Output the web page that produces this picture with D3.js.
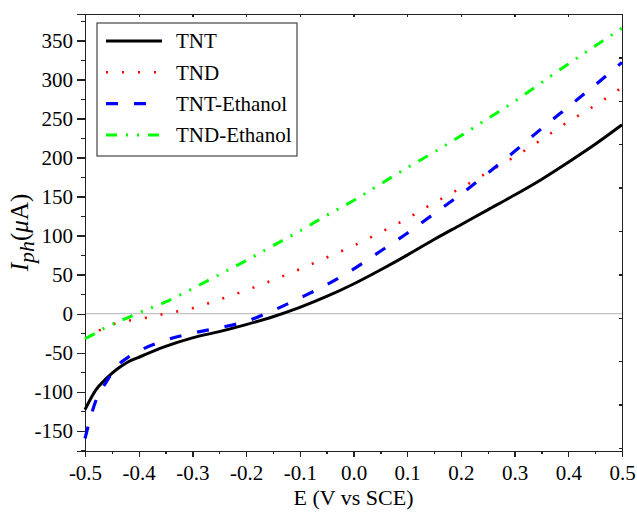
<!DOCTYPE html>
<html>
<head>
    <meta charset="utf-8">
    <title>Photocurrent vs potential</title>
    <script src="https://cdnjs.cloudflare.com/ajax/libs/d3/7.8.5/d3.min.js"></script>
    <style>
        body { margin: 0; background: #fff; }
        .axis path, .axis line { fill: none; stroke: #222; stroke-width: 1.3; shape-rendering: crispEdges; }
        .myline { fill: none; }
    </style>
</head>
<body>
<script>
    var SERIF = "Liberation Serif";

    // potential (V vs SCE)
    var potential = [-0.5, -0.48, -0.46, -0.44, -0.42, -0.4, -0.35, -0.3, -0.25, -0.2, -0.15, -0.1, -0.05,
        0, 0.05, 0.1, 0.15, 0.2, 0.25, 0.3, 0.35, 0.4, 0.45, 0.5];

    // photocurrent (uA)
    var tnt = [-123, -98, -83, -71, -62, -56, -42, -31, -23, -14, -4, 8, 22,
        38, 56, 75, 95, 114, 133, 152, 172, 194, 217, 242];
    var tnd = [-32, -24, -17, -12, -9, -7, 0, 7, 18, 30, 43, 57, 72,
        87, 104, 122, 142, 161, 181, 201, 223, 246, 267, 290];
    var tntEthanol = [-160, -112, -87, -67, -56, -48, -34, -25, -18, -10, 4, 20, 37,
        57, 80, 103, 128, 153, 180, 208, 237, 265, 293, 322];
    var tndEthanol = [-32, -25, -17, -11, -5, 1, 15, 32, 50, 68, 87, 106, 126,
        145, 166, 187, 207, 228, 250, 272, 296, 320, 343, 366];

    var seriesNames = ["TNT", "TND", "TNT-Ethanol", "TND-Ethanol"];
    var seriesValues = [tnt, tnd, tntEthanol, tndEthanol];
    var seriesColors = ["#000000", "#ff0000", "#0000ff", "#00ff00"];
    var seriesDash = [null, "2,14", "12,16", "11,9,2,9,2,9"];
    var seriesWidth = [3, 2.6, 3.2, 3];

    var xTicks = [-0.5, -0.4, -0.3, -0.2, -0.1, 0, 0.1, 0.2, 0.3, 0.4, 0.5];
    var yTicks = [-150, -100, -50, 0, 50, 100, 150, 200, 250, 300, 350];

    var W = 637, H = 512;
    var margin = {left: 85, top: 14, right: 15, bottom: 61};
    var w = W - margin.left - margin.right, h = H - margin.top - margin.bottom;

    var svg = d3.select("body").append("svg")
        .attr("width", W).attr("height", H)
        .attr("font-family", SERIF)
        .append("g")
        .attr("transform", "translate(" + margin.left + "," + margin.top + ")");

    var x = d3.scaleLinear().domain([-0.5, 0.5]).range([0, w]);
    var y = d3.scaleLinear().domain([-176, 384]).range([h, 0]);
    var y2 = d3.scaleLinear().domain([-0.07, 10]).range([h, 0]);

    var minorX = d3.range(-0.5, 0.5001, 0.05);
    var minorY = d3.range(-175, 376, 25);

    // zero line
    svg.append("line")
        .attr("x1", 0).attr("x2", w)
        .attr("y1", y(0)).attr("y2", y(0))
        .attr("stroke", "#c4c4c4").attr("stroke-width", 1.2);

    // minor ticks
    svg.append("g").attr("class", "axis")
        .attr("transform", "translate(0," + h + ")")
        .call(d3.axisBottom(x).tickValues(minorX).tickSize(3).tickFormat(""));
    svg.append("g").attr("class", "axis")
        .call(d3.axisLeft(y).tickValues(minorY).tickSize(4).tickFormat(""));

    // main axes
    svg.append("g").attr("class", "axis")
        .attr("transform", "translate(0," + h + ")")
        .call(d3.axisBottom(x).tickValues(xTicks).tickSize(6).tickPadding(8)
            .tickFormat(function(d) { return d.toFixed(1); }));
    svg.append("g").attr("class", "axis")
        .call(d3.axisLeft(y).tickValues(yTicks).tickSize(8).tickPadding(4)
            .tickFormat(function(d) { return String(d); }));

    // frame top / right
    svg.append("g").attr("class", "axis")
        .call(d3.axisBottom(x).tickValues(xTicks).tickSize(3).tickFormat(""));
    svg.append("g").attr("class", "axis")
        .attr("transform", "translate(" + w + ",0)")
        .call(d3.axisLeft(y2).ticks(10).tickSize(3).tickFormat(""));

    svg.selectAll(".axis")
        .attr("font-family", SERIF)
        .attr("font-size", 21);
    svg.selectAll(".axis text").attr("fill", "#000");
    svg.selectAll(".axis .domain").attr("stroke-width", 1.6);

    var line = d3.line()
        .x(function(d, i) { return x(potential[i]); })
        .y(function(d) { return y(d); })
        .curve(d3.curveMonotoneX);

    seriesValues.forEach(function(vals, k) {
        svg.append("path")
            .attr("class", "myline")
            .attr("d", line(vals))
            .attr("stroke", seriesColors[k])
            .attr("stroke-width", seriesWidth[k])
            .attr("stroke-dasharray", seriesDash[k]);
    });

    // legend
    var legend = svg.append("g").attr("transform", "translate(12,9)");
    legend.append("rect")
        .attr("width", 200).attr("height", 133)
        .attr("fill", "#fff").attr("stroke", "#444").attr("stroke-width", 1.2);
    seriesNames.forEach(function(name, k) {
        var row = legend.append("g").attr("transform", "translate(0," + (18 + k * 31.3) + ")");
        row.append("line")
            .attr("x1", 9).attr("x2", 65)
            .attr("stroke", seriesColors[k])
            .attr("stroke-width", seriesWidth[k])
            .attr("stroke-dasharray", seriesDash[k]);
        row.append("text")
            .attr("x", 79).attr("dy", "0.35em")
            .attr("font-family", SERIF)
            .attr("font-size", 21)
            .text(name);
    });

    // axis titles
    svg.append("text")
        .attr("x", w / 2).attr("y", h + 54)
        .attr("text-anchor", "middle")
        .attr("font-family", SERIF)
        .attr("font-size", 22)
        .text("E (V vs SCE)");

    var yt = svg.append("text")
        .attr("transform", "translate(-57," + (h / 2) + ") rotate(-90)")
        .attr("text-anchor", "middle")
        .attr("font-family", SERIF)
        .attr("font-size", 25);
    yt.append("tspan").style("font-style", "italic").text("I");
    yt.append("tspan").style("font-style", "italic").attr("dy", 6).attr("font-size", 22).text("ph");
    yt.append("tspan").attr("dy", -6).text("(");
    yt.append("tspan").style("font-style", "italic").text("μ");
    yt.append("tspan").text("A)");
</script>
</body>
</html>
